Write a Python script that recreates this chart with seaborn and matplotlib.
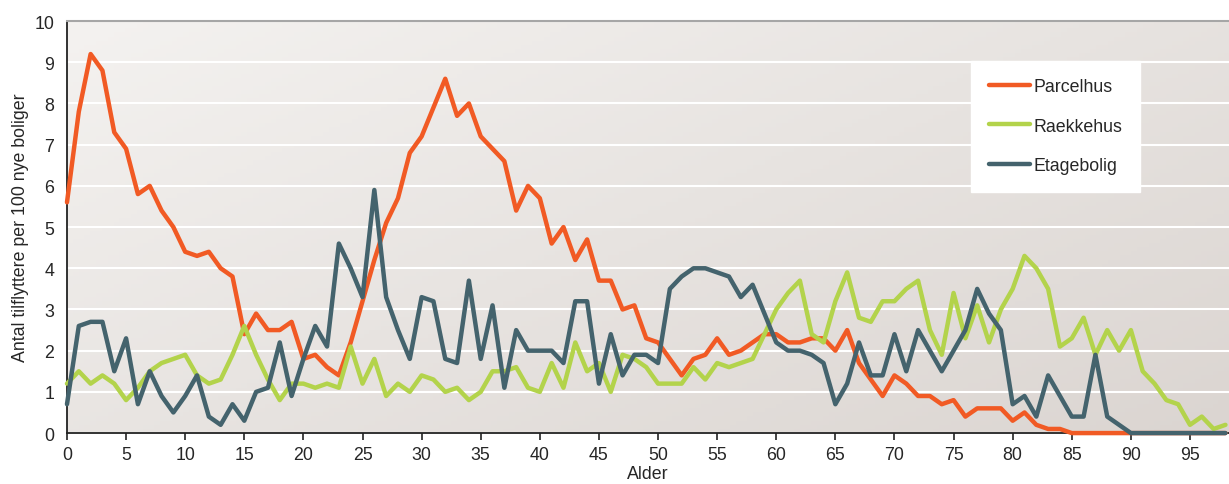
import numpy as np
import pandas as pd
import matplotlib
matplotlib.use("Agg")
import matplotlib.pyplot as plt
import seaborn as sns

# Alder 0-98
alder = list(range(99))

parcelhus = [
    5.6, 7.8, 9.2, 8.8, 7.3, 6.9, 5.8, 6.0, 5.4, 5.0,
    4.4, 4.3, 4.4, 4.0, 3.8, 2.4, 2.9, 2.5, 2.5, 2.7,
    1.8, 1.9, 1.6, 1.4, 2.2, 3.2, 4.2, 5.1, 5.7, 6.8,
    7.2, 7.9, 8.6, 7.7, 8.0, 7.2, 6.9, 6.6, 5.4, 6.0,
    5.7, 4.6, 5.0, 4.2, 4.7, 3.7, 3.7, 3.0, 3.1, 2.3,
    2.2, 1.8, 1.4, 1.8, 1.9, 2.3, 1.9, 2.0, 2.2, 2.4,
    2.4, 2.2, 2.2, 2.3, 2.3, 2.0, 2.5, 1.7, 1.3, 0.9,
    1.4, 1.2, 0.9, 0.9, 0.7, 0.8, 0.4, 0.6, 0.6, 0.6,
    0.3, 0.5, 0.2, 0.1, 0.1, 0, 0, 0, 0, 0,
    0, 0, 0, 0, 0, 0, 0, 0, 0,
]

raekkehus = [
    1.2, 1.5, 1.2, 1.4, 1.2, 0.8, 1.1, 1.5, 1.7, 1.8,
    1.9, 1.4, 1.2, 1.3, 1.9, 2.6, 1.9, 1.3, 0.8, 1.2,
    1.2, 1.1, 1.2, 1.1, 2.1, 1.2, 1.8, 0.9, 1.2, 1.0,
    1.4, 1.3, 1.0, 1.1, 0.8, 1.0, 1.5, 1.5, 1.6, 1.1,
    1.0, 1.7, 1.1, 2.2, 1.5, 1.7, 1.0, 1.9, 1.8, 1.6,
    1.2, 1.2, 1.2, 1.6, 1.3, 1.7, 1.6, 1.7, 1.8, 2.4,
    3.0, 3.4, 3.7, 2.4, 2.2, 3.2, 3.9, 2.8, 2.7, 3.2,
    3.2, 3.5, 3.7, 2.5, 1.9, 3.4, 2.3, 3.1, 2.2, 3.0,
    3.5, 4.3, 4.0, 3.5, 2.1, 2.3, 2.8, 1.9, 2.5, 2.0,
    2.5, 1.5, 1.2, 0.8, 0.7, 0.2, 0.4, 0.1, 0.2,
]

etagebolig = [
    0.7, 2.6, 2.7, 2.7, 1.5, 2.3, 0.7, 1.5, 0.9, 0.5,
    0.9, 1.4, 0.4, 0.2, 0.7, 0.3, 1.0, 1.1, 2.2, 0.9,
    1.8, 2.6, 2.1, 4.6, 4.0, 3.3, 5.9, 3.3, 2.5, 1.8,
    3.3, 3.2, 1.8, 1.7, 3.7, 1.8, 3.1, 1.1, 2.5, 2.0,
    2.0, 2.0, 1.7, 3.2, 3.2, 1.2, 2.4, 1.4, 1.9, 1.9,
    1.7, 3.5, 3.8, 4.0, 4.0, 3.9, 3.8, 3.3, 3.6, 2.9,
    2.2, 2.0, 2.0, 1.9, 1.7, 0.7, 1.2, 2.2, 1.4, 1.4,
    2.4, 1.5, 2.5, 2.0, 1.5, 2.0, 2.5, 3.5, 2.9, 2.5,
    0.7, 0.9, 0.4, 1.4, 0.9, 0.4, 0.4, 1.9, 0.4, 0.2,
    0, 0, 0, 0, 0, 0, 0, 0, 0,
]

boligtyper = ["Parcelhus", "Raekkehus", "Etagebolig"]
farver = ["#f15a24", "#b3d34b", "#44636d"]

df = pd.DataFrame({
    "Alder": alder * 3,
    "Vaerdi": parcelhus + raekkehus + etagebolig,
    "Boligtype": [b for b in boligtyper for _ in alder],
})

sns.set_style("white")
plt.rcParams["font.family"] = ["Liberation Sans", "DejaVu Sans"]

fig = plt.figure(figsize=(12.29, 4.85), dpi=100)
ax = fig.add_axes([0.0545, 0.105, 0.9455, 0.8495])

# baggrund med svag gradient
gx, gy = np.meshgrid(np.linspace(0, 1, 200), np.linspace(0, 1, 100))
grad = 0.55 * gx + 0.45 * (1 - gy)
cmap = matplotlib.colors.LinearSegmentedColormap.from_list("bg", ["#f4f2f0", "#dbd5d1"])
ax.imshow(grad, extent=[0, 1, 0, 1], transform=ax.transAxes, aspect="auto",
          cmap=cmap, zorder=0, origin="lower")

sns.lineplot(data=df, x="Alder", y="Vaerdi", hue="Boligtype", hue_order=boligtyper,
             palette=farver, linewidth=3.2, ax=ax, clip_on=False, zorder=3)

ax.set_xlim(0, 98.3)
ax.set_ylim(0, 10)
ax.set_xticks(range(0, 100, 5))
ax.set_yticks(range(0, 11))
ax.grid(axis="y", color="white", linewidth=1.5)
ax.set_axisbelow(True)

ax.tick_params(axis="x", direction="out", length=5, width=1.2, color="#222222",
               labelsize=12.8, pad=4, bottom=True)
ax.tick_params(axis="y", length=0, labelsize=12.8, pad=9)

for s in ["left", "bottom"]:
    ax.spines[s].set_color("#222222")
    ax.spines[s].set_linewidth(1.3)
ax.spines["top"].set_color("#a6a6a6")
ax.spines["top"].set_linewidth(1.5)
ax.spines["right"].set_visible(False)

ax.set_xlabel("Alder", fontsize=12.8, labelpad=2)
ax.set_ylabel("Antal tilflyttere per 100 nye boliger", fontsize=12.8, labelpad=4)

leg = ax.legend(loc="center", bbox_to_anchor=(0.851, 0.745), frameon=True,
                fancybox=False, framealpha=1, edgecolor="white", facecolor="white",
                fontsize=12.8, handlelength=2.3, handletextpad=0.2, labelspacing=1.25,
                borderpad=1.0, borderaxespad=0)
leg.set_zorder(5)
for line in leg.get_lines():
    line.set_linewidth(3.2)

fig.savefig("out.png", dpi=100)
